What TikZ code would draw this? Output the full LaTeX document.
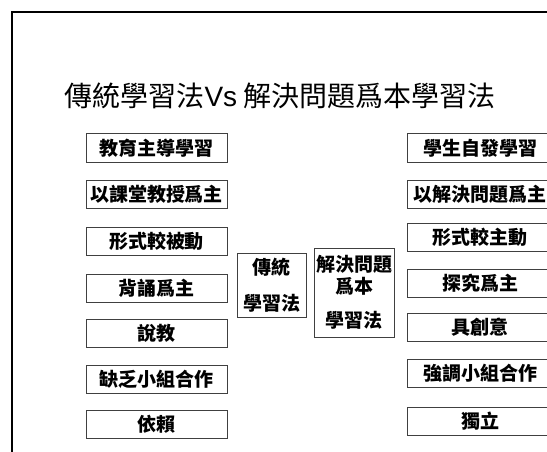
\documentclass[tikz,border=0pt]{standalone}
\usepackage{fontspec}
\newfontfamily\cjk{Noto Sans CJK TC}
\newfontfamily\lat{Liberation Sans}
\tikzset{
  itembox/.style={draw=black!75, line width=1pt, inner sep=0pt, minimum height=28pt,
    font=\cjk\bfseries\fontsize{19}{21}\selectfont},
  leftbox/.style={itembox, minimum width=141pt},
  rightbox/.style={itembox, minimum width=146pt},
  midbox/.style={draw=black!75, line width=1pt, inner sep=0pt, align=center,
    font=\cjk\bfseries\fontsize{19}{22}\selectfont},
}
\begin{document}
\begin{tikzpicture}[x=1pt,y=-1pt]
\useasboundingbox (0,0) rectangle (547,452);
\draw[line width=2.5pt] (12,452) -- (12,12) -- (547,12);
\node[font=\cjk\fontsize{28}{30}\selectfont] (title) at (280,96)
  {傳統學習法{\lat Vs} 解決問題爲本學習法};
% left column
\node[leftbox] (l1) at (156.5,148) {教育主導學習};
\node[leftbox] (l2) at (156.5,194) {以課堂教授爲主};
\node[leftbox] (l3) at (156.5,241) {形式較被動};
\node[leftbox] (l4) at (156.5,288) {背誦爲主};
\node[leftbox] (l5) at (156.5,333) {說教};
\node[leftbox] (l6) at (156.5,379) {缺乏小組合作};
\node[leftbox] (l7) at (156.5,424) {依賴};
% right column
\node[rightbox] (r1) at (480,148) {學生自發學習};
\node[rightbox] (r2) at (480,194) {以解決問題爲主};
\node[rightbox] (r3) at (480,237) {形式較主動};
\node[rightbox] (r4) at (480,283) {探究爲主};
\node[rightbox] (r5) at (480,327) {具創意};
\node[rightbox] (r6) at (480,373) {強調小組合作};
\node[rightbox] (r7) at (480,421) {獨立};
% middle
\node[midbox, minimum width=69pt, minimum height=64pt] (m1) at (271.5,285)
  {傳統\\[14pt]學習法};
\node[midbox, minimum width=80pt, minimum height=89pt] (m2) at (354,292.5)
  {解決問題\\爲本\\[12pt]學習法};
\end{tikzpicture}
\end{document}
